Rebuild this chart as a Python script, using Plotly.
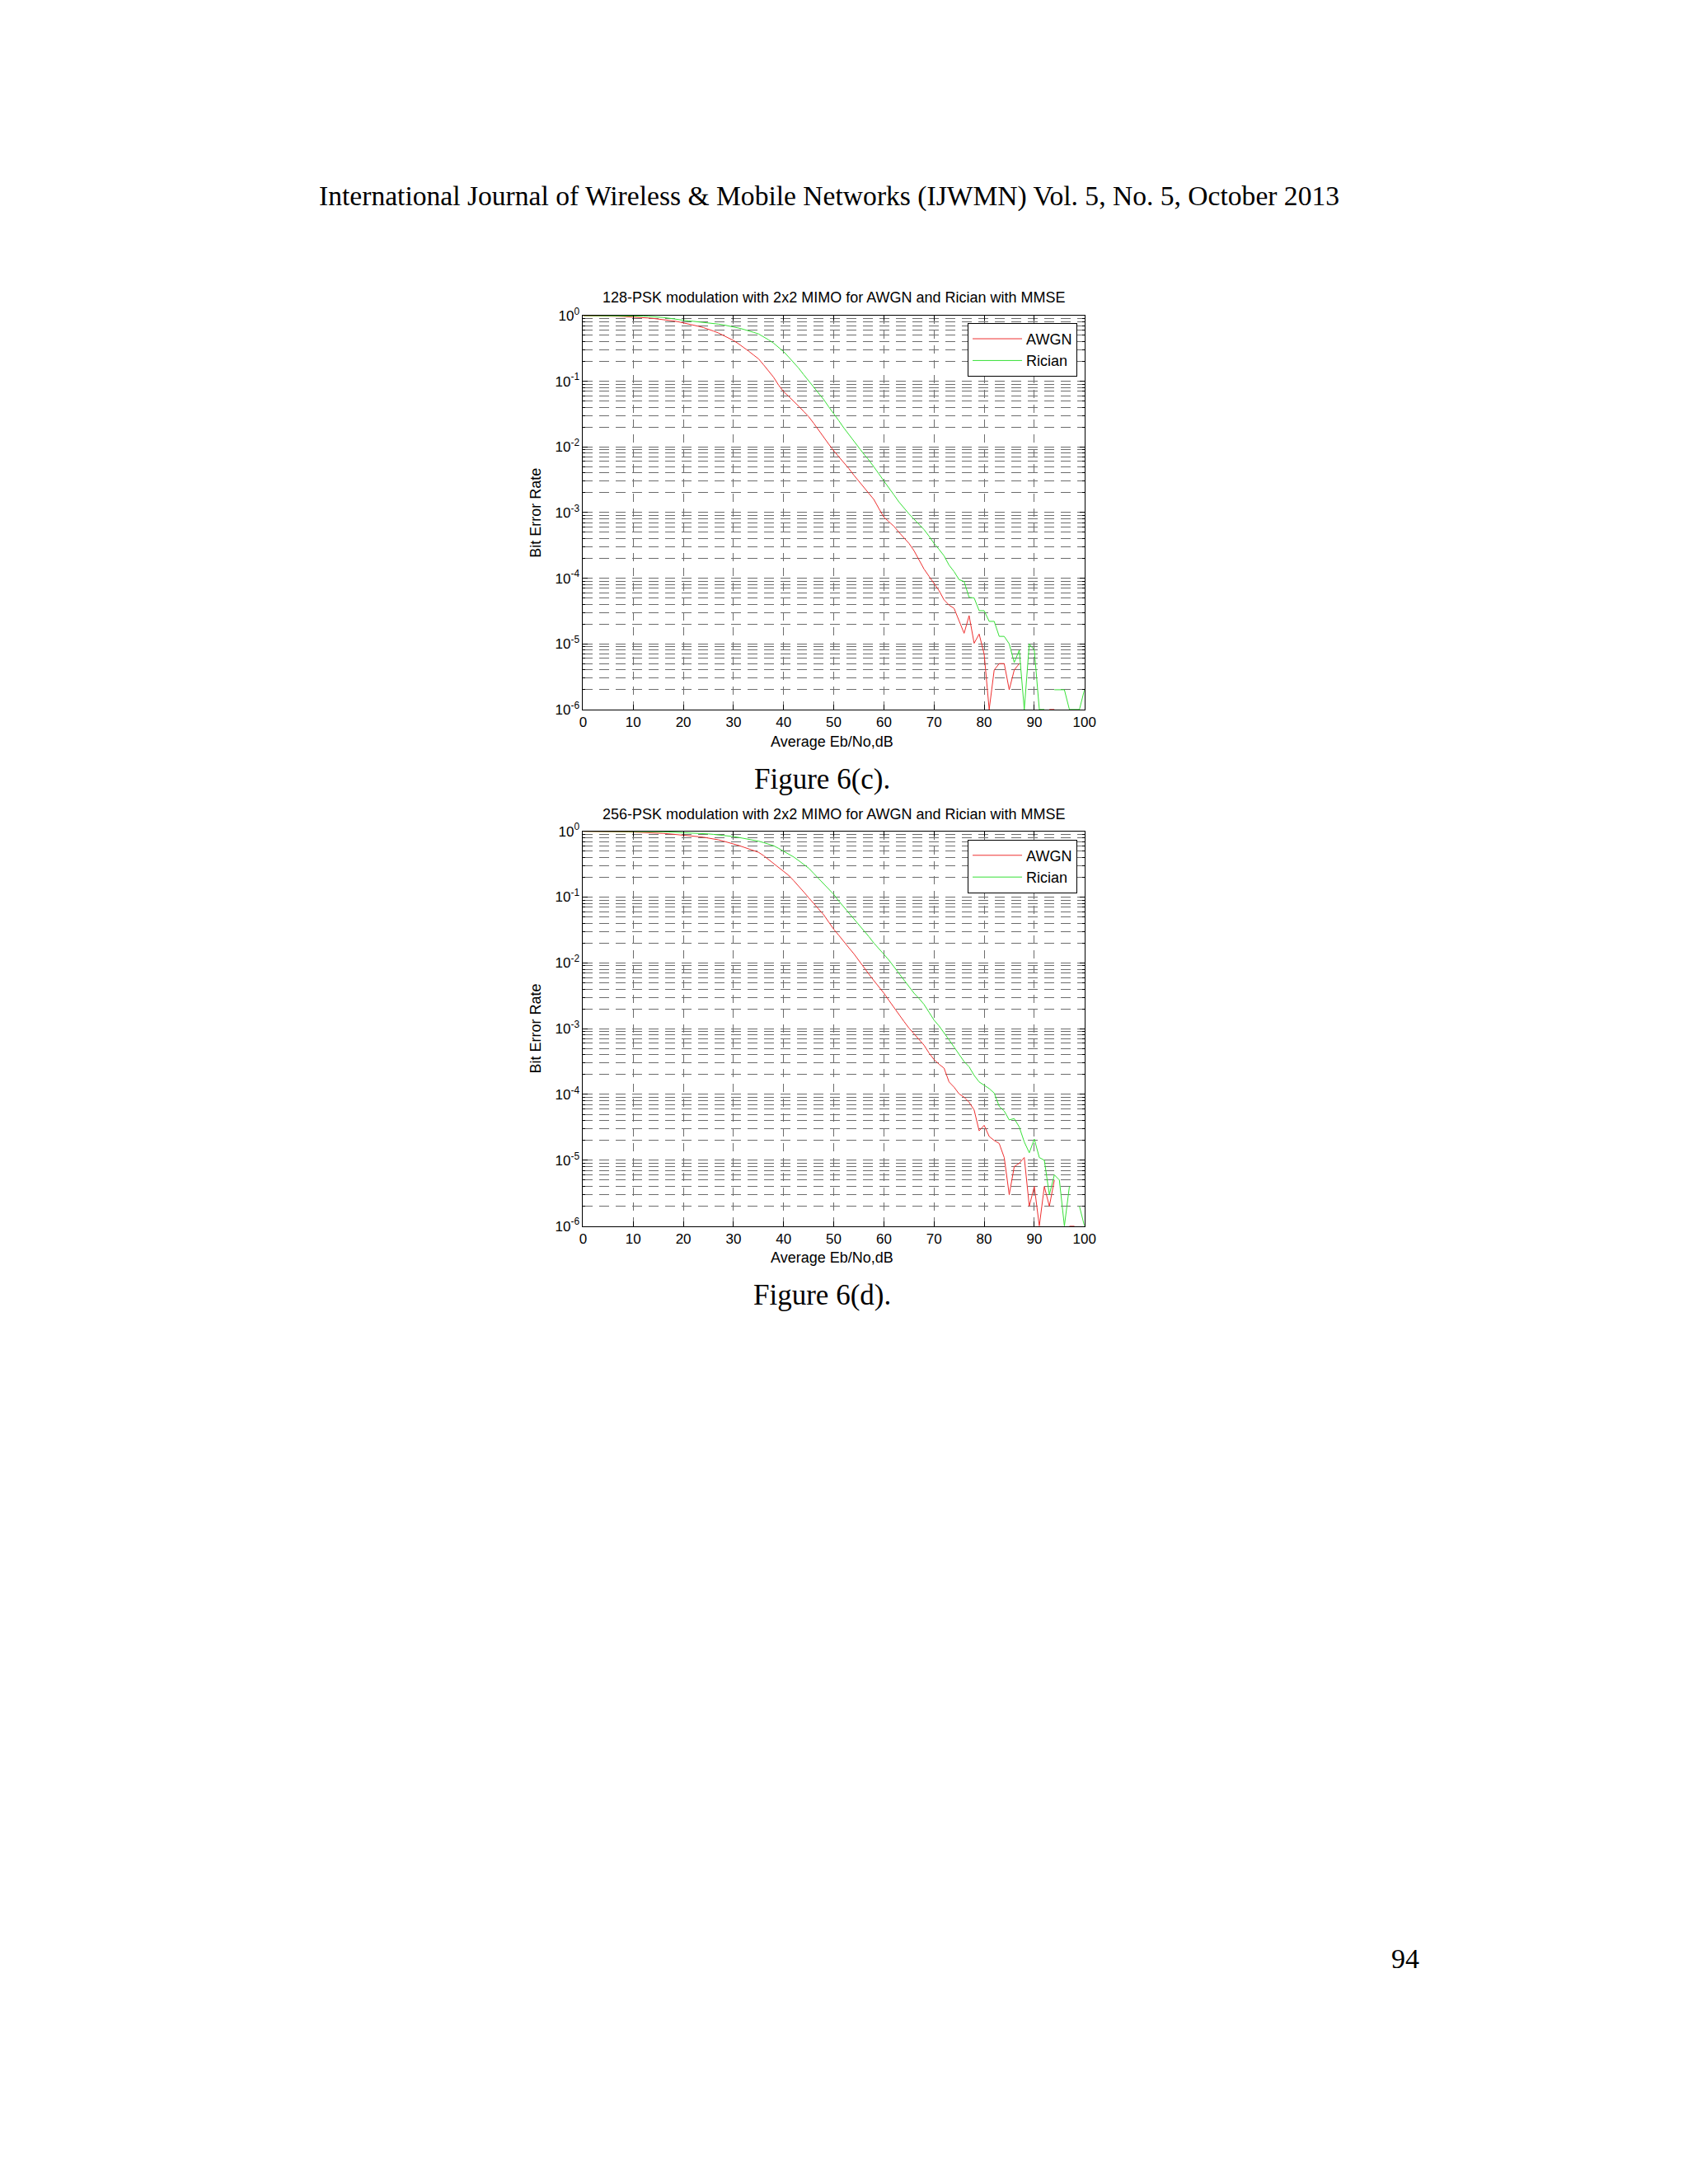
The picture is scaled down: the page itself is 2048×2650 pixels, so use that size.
import plotly.graph_objects as go
from plotly.subplots import make_subplots

# Eb/No axis (dB) and tick labels
ebno_db = list(range(0, 101))
x_ticks = [0, 10, 20, 30, 40, 50, 60, 70, 80, 90, 100]
y_ticks = [1e-6, 1e-5, 1e-4, 1e-3, 1e-2, 1e-1, 1]
y_tick_text = ["10<sup>-6</sup>", "10<sup>-5</sup>", "10<sup>-4</sup>", "10<sup>-3</sup>",
               "10<sup>-2</sup>", "10<sup>-1</sup>", "10<sup>0</sup>"]

# Figure 6(c): 128-PSK, BER (None = zero errors, not drawn)
awgn_128 = [0.991, 0.991, 0.989, 0.986, 0.984, 0.982, 0.977, 0.973, 0.966, 0.959,
            0.951, 0.942, 0.931, 0.918, 0.904, 0.887, 0.869, 0.849, 0.828, 0.804,
            0.776, 0.746, 0.716, 0.687, 0.656, 0.624, 0.582, 0.543, 0.501, 0.457,
            0.417, 0.372, 0.331, 0.288, 0.251, 0.219, 0.178, 0.145, 0.115, 0.0871,
            0.0692, 0.0589, 0.0501, 0.0417, 0.0347, 0.0288, 0.0229, 0.0178, 0.0141, 0.0110,
            0.00871, 0.00708, 0.00589, 0.00468, 0.00372, 0.00302, 0.00245, 0.00195, 0.00158, 0.00115,
            8.51e-4, 7.24e-4, 6.17e-4, 5.01e-4, 4.17e-4, 3.39e-4, 2.63e-4, 1.91e-4, 1.38e-4, 1.07e-4,
            8.32e-5, 6.46e-5, 4.68e-5, 3.89e-5, 3.47e-5, 2.29e-5, 1.45e-5, 2.69e-5, 1.02e-5, 1.41e-5,
            7e-6, 1e-6, 4e-6, 5e-6, 5e-6, 2e-6, 4e-6, 5e-6, None, None,
            None, None, None, 1e-6, 1e-6, None, None, None, None, None,
            2e-6]
rician_128 = [0.998, 0.998, 0.998, 0.998, 0.995, 0.995, 0.995, 0.993, 0.993, 0.991,
              0.989, 0.984, 0.979, 0.973, 0.964, 0.955, 0.935, 0.914, 0.891, 0.867,
              0.839, 0.828, 0.817, 0.804, 0.791, 0.776, 0.759, 0.741, 0.721, 0.700,
              0.676, 0.646, 0.617, 0.589, 0.556, 0.525, 0.479, 0.427, 0.380, 0.331,
              0.282, 0.234, 0.195, 0.158, 0.126, 0.102, 0.0813, 0.0661, 0.0525, 0.0407,
              0.0324, 0.0251, 0.0195, 0.0155, 0.0120, 0.00955, 0.00776, 0.00631, 0.00501, 0.00389,
              0.00302, 0.00240, 0.00186, 0.00145, 0.00117, 9.55e-4, 7.94e-4, 6.61e-4, 5.50e-4, 4.37e-4,
              3.39e-4, 2.75e-4, 2.19e-4, 1.58e-4, 1.26e-4, 9.5e-5, 8.9e-5, 5.1e-5, 5.0e-5, 3.2e-5,
              3.2e-5, 2.2e-5, 2.2e-5, 1.3e-5, 1.3e-5, 1.0e-5, 5.2e-6, 8e-6, 1e-6, 1e-5,
              8e-6, 1e-6, 1e-6, None, 2e-6, 2e-6, 2e-6, 1e-6, 1e-6, 1e-6,
              2e-6]

# Figure 6(d): 256-PSK
awgn_256 = [0.995, 0.995, 0.995, 0.993, 0.993, 0.991, 0.989, 0.986, 0.982, 0.977,
            0.971, 0.966, 0.962, 0.955, 0.948, 0.942, 0.929, 0.916, 0.904, 0.887,
            0.871, 0.857, 0.843, 0.828, 0.813, 0.794, 0.767, 0.741, 0.708, 0.676,
            0.646, 0.610, 0.575, 0.543, 0.513, 0.479, 0.427, 0.372, 0.324, 0.288,
            0.251, 0.214, 0.178, 0.148, 0.120, 0.0977, 0.0794, 0.0661, 0.0537, 0.0417,
            0.0324, 0.0263, 0.0209, 0.0170, 0.0138, 0.0110, 0.00851, 0.00676, 0.00537, 0.00437,
            0.00347, 0.00269, 0.00209, 0.00166, 0.00129, 0.00102, 8.32e-4, 6.92e-4, 5.62e-4, 4.27e-4,
            3.39e-4, 2.88e-4, 2.51e-4, 1.55e-4, 1.29e-4, 1.02e-4, 9.1e-5, 7.6e-5, 5.8e-5, 2.8e-5,
            3.4e-5, 2.3e-5, 2.0e-5, 1.8e-5, 1.1e-5, 3e-6, 8e-6, 9e-6, 1.1e-5, 2e-6,
            4e-6, 1e-6, 4e-6, 2e-6, 5e-6, None, None, 1e-6, 1e-6, None,
            1e-6]
rician_256 = [0.999, 0.999, 0.999, 0.999, 0.999, 0.999, 0.999, 0.999, 0.999, 0.999,
              0.998, 0.995, 0.993, 0.991, 0.989, 0.986, 0.982, 0.977, 0.971, 0.964,
              0.955, 0.946, 0.938, 0.929, 0.920, 0.912, 0.897, 0.883, 0.867, 0.849,
              0.832, 0.807, 0.783, 0.759, 0.733, 0.708, 0.673, 0.638, 0.603, 0.550,
              0.501, 0.452, 0.407, 0.359, 0.316, 0.275, 0.229, 0.191, 0.158, 0.132,
              0.110, 0.0871, 0.0708, 0.0589, 0.0479, 0.0389, 0.0309, 0.0251, 0.0200, 0.0166,
              0.0135, 0.0110, 0.00871, 0.00692, 0.00537, 0.00427, 0.00347, 0.00288, 0.00234, 0.00178,
              0.00135, 0.00110, 8.71e-4, 6.76e-4, 5.25e-4, 4.07e-4, 3.16e-4, 2.63e-4, 1.95e-4, 1.55e-4,
              1.38e-4, 1.23e-4, 1.05e-4, 6.6e-5, 5.6e-5, 4.1e-5, 4.3e-5, 3.2e-5, 1.9e-5, 1.3e-5,
              2.1e-5, 1.1e-5, 1.0e-5, 3e-6, 6e-6, 5e-6, 1e-6, 4e-6, None, 2e-6,
              1e-6]

W, H = 2048, 2650
SANS = "Liberation Sans, Arial, sans-serif"
SERIF = "Liberation Serif, Times New Roman, serif"
RED = "#ee3030"
GREEN = "#36e036"

fig = make_subplots(rows=2, cols=1)

panels = [
    (1, awgn_128, rician_128, "legend"),
    (2, awgn_256, rician_256, "legend2"),
]
for row, awgn, rician, leg in panels:
    fig.add_trace(go.Scatter(x=ebno_db, y=awgn, mode="lines", name="AWGN",
                             line=dict(color=RED, width=1), legend=leg),
                  row=row, col=1)
    fig.add_trace(go.Scatter(x=ebno_db, y=rician, mode="lines", name="Rician",
                             line=dict(color=GREEN, width=1), legend=leg),
                  row=row, col=1)

# pixel boxes of the two axes on the page (left, right, top, bottom)
boxes = [(709, 1323, 374, 856), (709, 1323, 1005, 1488)]
grid_col = "#6c6c6c"

for i, (l, r, t, b) in enumerate(boxes, start=1):
    fig.update_xaxes(domain=[l / W, r / W], range=[0, 100], tickvals=x_ticks,
                     ticks="inside", ticklen=6, tickcolor="black",
                     showline=True, linecolor="black", linewidth=1, mirror="ticks",
                     showgrid=True, gridcolor=grid_col, gridwidth=1, griddash="10px,8px",
                     zeroline=False, tickfont=dict(family=SANS, size=17, color="black"),
                     row=i, col=1)
    fig.update_yaxes(domain=[1 - b / H, 1 - t / H], type="log", range=[-6, 0],
                     tickvals=y_ticks, ticktext=y_tick_text,
                     ticks="inside", ticklen=6, tickcolor="black",
                     showline=True, linecolor="black", linewidth=1, mirror="ticks",
                     showgrid=True, gridcolor=grid_col, gridwidth=1, griddash="12px,8px",
                     minor=dict(dtick="D1", showgrid=True, gridcolor=grid_col,
                                griddash="12px,8px", gridwidth=1,
                                ticks="inside", ticklen=3, tickcolor="black"),
                     zeroline=False, tickfont=dict(family=SANS, size=17, color="black"),
                     row=i, col=1)

annotations = [
    dict(text="International Journal of Wireless &amp; Mobile Networks (IJWMN) Vol. 5, No. 5, October 2013",
         x=1010 / W, y=1 - 228 / H, font=dict(family=SERIF, size=33.6)),
    dict(text="128-PSK modulation with 2x2 MIMO for AWGN and Rician with MMSE",
         x=1016 / W, y=1 - 352 / H, font=dict(family=SANS, size=18)),
    dict(text="256-PSK modulation with 2x2 MIMO for AWGN and Rician with MMSE",
         x=1016 / W, y=1 - 984 / H, font=dict(family=SANS, size=18)),
    dict(text="Average Eb/No,dB", x=1014 / W, y=1 - 895 / H, font=dict(family=SANS, size=18)),
    dict(text="Average Eb/No,dB", x=1014 / W, y=1 - 1527 / H, font=dict(family=SANS, size=18)),
    dict(text="Bit Error Rate", x=651 / W, y=1 - 615 / H, textangle=-90,
         font=dict(family=SANS, size=18)),
    dict(text="Bit Error Rate", x=651 / W, y=1 - 1246 / H, textangle=-90,
         font=dict(family=SANS, size=18)),
    dict(text="Figure 6(c).", x=1002 / W, y=1 - 941 / H, font=dict(family=SERIF, size=35)),
    dict(text="Figure 6(d).", x=1002 / W, y=1 - 1573 / H, font=dict(family=SERIF, size=35)),
    dict(text="94", x=1716 / W, y=1 - 2384 / H, font=dict(family=SERIF, size=34)),
]
for a in annotations:
    a.update(xref="paper", yref="paper", showarrow=False, xanchor="center", yanchor="middle")
    a["font"]["color"] = "black"

legend_style = dict(xanchor="left", yanchor="top", bgcolor="white",
                    bordercolor="black", borderwidth=1, itemwidth=60,
                    font=dict(family=SANS, size=18, color="black"), tracegroupgap=0)

fig.update_layout(
    width=W, height=H,
    margin=dict(l=0, r=0, t=0, b=0),
    paper_bgcolor="white", plot_bgcolor="white",
    annotations=annotations,
    showlegend=True,
    legend=dict(x=1180 / W, y=1 - 383 / H, **legend_style),
    legend2=dict(x=1180 / W, y=1 - 1015 / H, **legend_style),
)

fig.write_html("out.html", config={"displayModeBar": False},
               post_script="document.body.style.margin='0';")
